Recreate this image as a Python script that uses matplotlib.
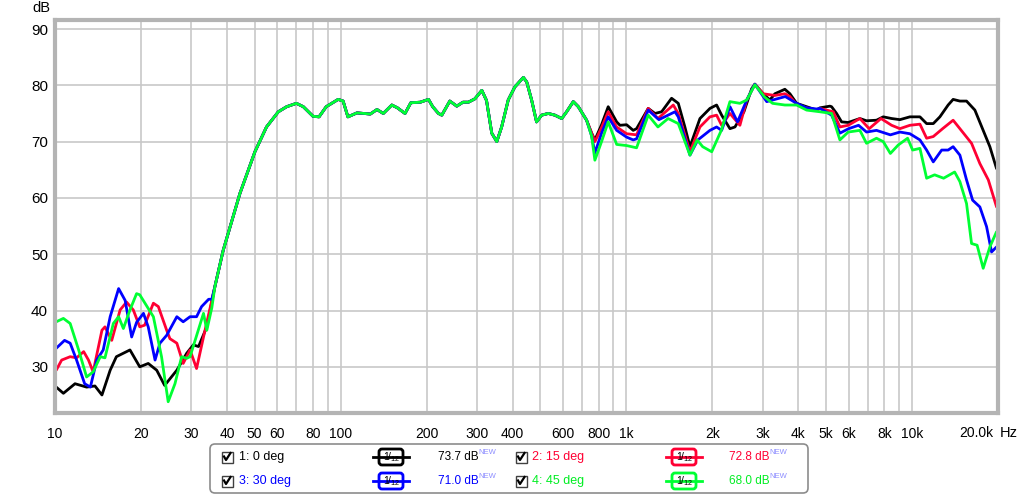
import matplotlib.pyplot as plt
from matplotlib.patches import FancyBboxPatch, Rectangle

plt.rcParams['font.family'] = ['Liberation Sans', 'DejaVu Sans']

# low end (10 - 35 Hz), one list per curve
f_low_0 = [10.1, 10.7, 11.75, 12.9, 13.8, 14.6, 15.6, 16.4, 18.3, 19.8, 21.2, 22.7, 24.2, 26.7, 28.9, 30.5, 31.8, 34.0, 35.4]
db_low_0 = [26.4, 25.3, 27.0, 26.4, 26.6, 25.0, 29.4, 31.8, 33.0, 30.0, 30.6, 29.4, 26.7, 29.4, 32.4, 33.9, 33.6, 37.1, 41.5]

f_low_1 = [10.1, 10.55, 11.3, 11.9, 12.6, 13.1, 13.6, 14.6, 14.96, 15.8, 16.9, 17.8, 18.8, 19.8, 20.6, 22.1, 23.0, 24.6, 25.25, 26.7, 28.1, 29.7, 31.3, 33.1, 35.4]
db_low_1 = [29.4, 31.2, 31.8, 31.6, 32.7, 31.2, 29.1, 36.5, 37.1, 34.7, 40.1, 41.5, 40.1, 37.1, 37.4, 41.3, 40.7, 36.5, 35.0, 34.2, 30.6, 33.0, 29.7, 35.3, 41.8]

f_low_2 = [10.1, 10.8, 11.3, 11.9, 12.7, 13.3, 14.0, 14.75, 15.6, 16.7, 17.6, 18.55, 19.3, 20.4, 21.2, 22.4, 23.3, 24.6, 26.7, 28.1, 29.7, 31.3, 32.6, 34.5, 35.4]
db_low_2 = [33.3, 34.7, 34.2, 31.2, 27.0, 26.4, 31.2, 33.0, 38.9, 43.9, 41.8, 35.3, 37.9, 39.5, 37.1, 31.2, 34.2, 35.6, 38.9, 38.0, 38.9, 38.9, 40.7, 42.0, 42.0]

f_low_3 = [10.1, 10.7, 11.3, 12.1, 12.9, 13.6, 14.4, 14.96, 16.0, 16.7, 17.35, 18.3, 19.3, 19.8, 22.1, 23.6, 24.9, 26.3, 27.75, 28.9, 29.7, 33.1, 34.0, 35.4]
db_low_3 = [38.0, 38.6, 37.7, 33.0, 28.2, 29.1, 31.8, 31.6, 37.7, 38.9, 36.8, 40.1, 43.0, 42.8, 38.9, 31.8, 23.8, 27.0, 31.8, 31.5, 31.8, 39.5, 36.5, 40.5]

# shared mid band (36 Hz - 730 Hz), the four curves overlap here
f_mid = [36.3, 38.8, 39.9, 44.4, 50.1, 55, 60.5, 64.7, 70, 74, 80, 84, 89, 98, 102, 106, 114, 121, 127, 134, 141,
         151, 158, 168, 176, 190, 203, 210, 220, 226, 241, 255, 268, 280, 295, 312, 324, 338, 352, 366, 386,
         407, 436, 448, 466, 485, 505, 533, 562, 594, 618, 652, 679, 726]
db_mid = [44.3, 50.7, 52.8, 60.8, 68.2, 72.6, 75.3, 76.2, 76.8, 76.2, 74.5, 74.4, 76.2, 77.5, 77.2, 74.4, 75.1, 75.0, 74.9, 75.7, 75.0,
          76.5, 76.0, 75.0, 76.9, 77.0, 77.5, 76.2, 75.0, 74.7, 77.2, 76.3, 77.0, 77.0, 77.6, 79.1, 77.3, 71.5, 70.0, 72.6, 77.4,
          79.7, 81.4, 80.6, 77.4, 73.5, 74.7, 75.0, 74.7, 74.1, 75.3, 77.1, 76.2, 73.8]

# top end (750 Hz - 20 kHz), one list per curve
f_hi_0 = [756, 776, 819, 864, 925, 950, 1002, 1057, 1086, 1193, 1260, 1329, 1440, 1520, 1603, 1670, 1810, 1962, 2070, 2156, 2305, 2400,
          2580, 2746, 2818, 3013, 3180, 3311, 3589, 3738, 3945, 4276, 4635, 4760, 5160, 5230, 5445, 5670, 5980, 6570, 6930, 7510,
          7930, 8485, 9070, 9830, 10660, 11250, 11870, 12520, 13380, 13930, 14710, 15520, 16600, 17750, 18730, 19770]
db_hi_0 = [71.5, 70.3, 73.0, 76.2, 73.5, 72.9, 73.0, 72.0, 72.3, 75.9, 75.0, 75.3, 77.7, 76.8, 72.6, 69.1, 74.1, 75.9, 76.5, 74.7, 72.3, 72.6,
           75.3, 79.4, 80.2, 78.5, 77.4, 78.5, 79.3, 78.5, 76.8, 76.2, 75.6, 76.0, 76.3, 76.2, 75.0, 73.5, 73.4, 74.1, 73.7, 73.8,
           74.4, 74.1, 73.9, 74.4, 74.4, 73.2, 73.2, 74.4, 76.5, 77.5, 77.2, 77.2, 75.6, 72.0, 69.1, 65.2]

f_hi_1 = [756, 776, 819, 864, 925, 1002, 1086, 1193, 1290, 1460, 1520, 1670, 1810, 1962, 2070, 2156, 2305, 2498, 2640, 2818,
          3013, 3311, 3589, 3738, 3945, 4276, 4635, 4760, 5300, 5592, 5980, 6570, 7080, 7790, 8485, 9070, 9830, 10660, 11250,
          11870, 12800, 13930, 14710, 16160, 17280, 18500, 19770]
db_hi_1 = [71.5, 70.0, 72.5, 75.3, 72.6, 71.4, 71.2, 75.9, 74.1, 76.5, 75.0, 68.2, 72.6, 74.4, 74.7, 72.9, 75.0, 72.9, 77.4, 80.2,
           78.5, 78.2, 78.5, 78.0, 76.6, 76.0, 75.5, 75.9, 75.3, 72.6, 72.9, 74.1, 72.3, 74.1, 72.9, 72.3, 72.9, 73.1, 70.6,
           70.9, 72.3, 73.8, 72.3, 69.7, 66.1, 63.2, 58.4]

f_hi_2 = [756, 776, 819, 864, 925, 1002, 1057, 1086, 1193, 1300, 1480, 1520, 1670, 1780, 1962, 2070, 2156, 2305, 2450, 2640,
          2818, 3100, 3311, 3600, 3945, 4276, 4635, 4760, 5230, 5592, 6000, 6500, 6930, 7510, 8400, 9070, 9830, 10660, 11250,
          11870, 12700, 13380, 13930, 14710, 15520, 16300, 17280, 18240, 18990, 19770]
db_hi_2 = [71.0, 68.0, 71.5, 74.4, 72.0, 70.8, 70.3, 70.5, 75.6, 73.9, 75.3, 74.4, 67.6, 70.3, 72.0, 72.6, 72.0, 76.2, 73.5, 77.4,
           80.2, 77.1, 77.5, 78.0, 76.8, 76.0, 75.8, 75.9, 74.7, 71.5, 72.3, 72.9, 71.7, 72.0, 71.2, 71.7, 71.4, 70.3, 68.5,
           66.4, 68.5, 68.5, 69.1, 67.6, 63.2, 59.6, 58.4, 54.9, 50.4, 51.3]

f_hi_3 = [756, 776, 819, 864, 925, 1002, 1086, 1193, 1290, 1400, 1520, 1670, 1770, 1850, 1990, 2150, 2305, 2498, 2640, 2818,
          3050, 3250, 3589, 3945, 4276, 4760, 5230, 5592, 5980, 6570, 6930, 7510, 7930, 8400, 8950, 9650, 10050, 10660, 11250,
          12000, 12900, 14100, 14710, 15520, 16160, 16900, 17750, 18730, 19770]
db_hi_3 = [71.0, 66.7, 70.0, 73.5, 69.5, 69.3, 68.9, 74.7, 72.6, 74.1, 73.2, 67.6, 70.3, 69.1, 68.2, 72.0, 77.1, 76.8, 77.4, 80.1,
           77.9, 76.8, 76.5, 76.5, 75.6, 75.3, 75.0, 70.3, 71.7, 72.0, 69.7, 70.6, 70.0, 67.9, 69.4, 70.6, 68.5, 68.8, 63.5,
           64.1, 63.5, 64.6, 62.9, 59.0, 51.9, 51.6, 47.5, 51.3, 54.0]

names = ['1: 0 deg', '2: 15 deg', '3: 30 deg', '4: 45 deg']
levels = ['73.7 dB', '72.8 dB', '71.0 dB', '68.0 dB']
colors = ['#000000', '#ff0033', '#0000ff', '#00ff33']
text_colors = ['#000000', '#ff0033', '#0000ff', '#00ee22']

grid_freqs = [10, 20, 30, 40, 50, 60, 70, 80, 90, 100, 200, 300, 400, 500, 600, 700, 800, 900,
              1000, 2000, 3000, 4000, 5000, 6000, 7000, 8000, 9000, 10000, 20000]
tick_text = {10: '10', 20: '20', 30: '30', 40: '40', 50: '50', 60: '60', 80: '80', 100: '100',
             200: '200', 300: '300', 400: '400', 600: '600', 800: '800', 1000: '1k', 2000: '2k',
             3000: '3k', 4000: '4k', 5000: '5k', 6000: '6k', 8000: '8k', 10000: '10k'}
db_ticks = [30, 40, 50, 60, 70, 80, 90]

curves = [(f_low_0, db_low_0, f_hi_0, db_hi_0),
          (f_low_1, db_low_1, f_hi_1, db_hi_1),
          (f_low_2, db_low_2, f_hi_2, db_hi_2),
          (f_low_3, db_low_3, f_hi_3, db_hi_3)]

W, H = 1024, 495
fig = plt.figure(figsize=(W / 100, H / 100), dpi=100)
ax = fig.add_axes([55 / W, 1 - 413 / H, 943 / W, 393 / H])

for (fl, dl, fh, dh), c in zip(curves, colors):
    ax.plot(fl + f_mid + fh, dl + db_mid + dh, color=c, lw=2.0,
            solid_joinstyle='round', solid_capstyle='round')

ax.set_xscale('log')
ax.set_xlim(10, 20000)
ax.set_ylim(21.8, 91.6)
ax.set_xticks(grid_freqs)
ax.set_xticklabels([tick_text.get(f, '') for f in grid_freqs])
ax.xaxis.set_minor_locator(plt.NullLocator())
ax.set_yticks(db_ticks)
ax.grid(True, color='#c8c8c8', lw=1.2)
ax.set_axisbelow(True)
ax.tick_params(length=0, labelsize=10, colors='#000000')
ax.tick_params(axis='x', pad=10)
ax.tick_params(axis='y', pad=5, labelsize=11)
for s in ax.spines.values():
    s.set_color('#b4b4b4')
    s.set_linewidth(3)

# overlay in pixel coordinates for the extra labels and legend
ov = fig.add_axes([0, 0, 1, 1])
ov.set_xlim(0, W)
ov.set_ylim(H, 0)
ov.axis('off')

ov.text(41, 8, 'dB', fontsize=10.5, ha='center', va='center')
ov.text(993, 433, '20.0k', fontsize=10, ha='right', va='center')
ov.text(1000, 433, 'Hz', fontsize=10.5, ha='left', va='center')

ov.add_patch(FancyBboxPatch((210, 444), 598, 49, boxstyle='round,pad=0,rounding_size=5',
                            fc='white', ec='#8c8c8c', lw=1.2))

slots = [(227, 239, 373, 438, 457), (521, 532, 666, 729, 457),
         (227, 239, 373, 438, 481), (521, 532, 666, 729, 481)]
for (cb, lx, ix, vx, ry), name, lev, c, tc in zip(slots, names, levels, colors, text_colors):
    ov.add_patch(Rectangle((cb - 5.5, ry - 5.5), 11, 11, fc='white', ec='#404040', lw=1.0))
    ov.plot([cb - 3, cb - 1, cb + 3.5], [ry - 0.5, ry + 3, ry - 4], color='black', lw=1.6)
    ov.text(lx, ry, name, fontsize=9, color=tc, ha='left', va='center')
    ov.plot([ix, ix + 36], [ry, ry], color=c, lw=2)
    ov.add_patch(FancyBboxPatch((ix + 6, ry - 8), 24, 16, boxstyle='round,pad=0,rounding_size=3',
                                fc='white', ec=c, lw=2))
    ov.text(ix + 18, ry, r'$\mathregular{1\!/_{12}}$', fontsize=7.5, ha='center', va='center')
    ov.text(vx, ry, lev, fontsize=8.5, color=tc, ha='left', va='center')
    ov.text(vx + 40, ry - 4, 'NEW', fontsize=5.5, color='#8c8cff', ha='left', va='center')

fig.savefig('out.png', dpi=100)
